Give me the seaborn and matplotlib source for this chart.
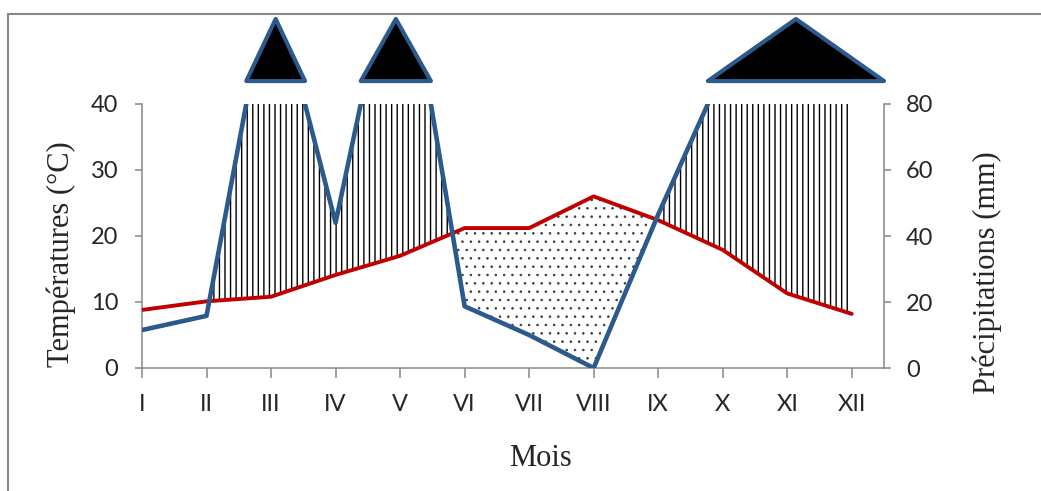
import numpy as np
import pandas as pd
import matplotlib
matplotlib.use("Agg")
import matplotlib.pyplot as plt
import matplotlib.transforms as mtransforms
from matplotlib.patches import Polygon
from matplotlib.lines import Line2D
import seaborn as sns

# ---------------- data ----------------
mois = ["I", "II", "III", "IV", "V", "VI", "VII", "VIII", "IX", "X", "XI", "XII"]
temperatures = [8.8, 10.1, 10.8, 14.1, 17.0, 21.2, 21.2, 26.0, 22.4, 17.9, 11.3, 8.2]   # °C
precipitations = [11.5, 15.8, 120.0, 44.0, 136.0, 18.7, 10.0, 0.0, 46.5, 90.0, 125.0, 96.0]  # mm
ticks_temp = [0, 10, 20, 30, 40]
ticks_prec = [0, 20, 40, 60, 80]
saison_seche = ("VI", "IX")

# ---------------- style ----------------
sns.set_style("white")
plt.rcParams["font.family"] = ["Lato", "DejaVu Sans"]
plt.rcParams["hatch.linewidth"] = 1.0
plt.rcParams["hatch.color"] = "black"
SERIF = ["Liberation Serif", "DejaVu Serif"]

BLUE = "#2C5A8C"
RED = "#C00000"
GRAY = "#878787"
TXT = "#262626"

W, H = 1041, 491
fig = plt.figure(figsize=(W / 100, H / 100), dpi=100)
ax = fig.add_axes([142 / W, 1 - 368 / H, (884 - 142) / W, (368 - 104) / H])
ax2 = ax.twinx()

x = np.arange(len(mois))
df = pd.DataFrame({"x": x, "mois": mois, "T": temperatures, "P": precipitations})
T = df["T"].to_numpy()
P2 = df["P"].to_numpy() / 2.0  # Gaussen convention P = 2T

# humid period (vertical hatching)
ax.fill_between(x, T, P2, where=P2 >= T, interpolate=True, facecolor="none",
                edgecolor="black", hatch="|||", linewidth=0, zorder=1)
# dry period (sparse dots)
i0, i1 = mois.index(saison_seche[0]), mois.index(saison_seche[1])
dry = (P2 <= T) & (x >= i0) & (x <= i1)
with plt.rc_context({"hatch.linewidth": 0.6}):
    ax.fill_between(x, P2, T, where=dry, interpolate=True, facecolor="none",
                    edgecolor="#3a3a3a", hatch="..", linewidth=0, zorder=1)

# lines
sns.lineplot(data=df, x="x", y="T", ax=ax, color=RED, linewidth=2.8, sort=False,
             solid_capstyle="round", zorder=3)
sns.lineplot(data=df, x="x", y="P", ax=ax2, color=BLUE, linewidth=3.3, sort=False,
             solid_capstyle="round", zorder=3)

ax.set_xlim(0, len(mois) - 0.5)
ax.set_ylim(ticks_temp[0], ticks_temp[-1])
ax2.set_ylim(ticks_prec[0], ticks_prec[-1])

# overflow triangles above the plot where precipitation > axis max
pmax = ticks_prec[-1]
P = df["P"].to_numpy()
trans = mtransforms.blended_transform_factory(ax2.transData, ax2.transAxes)
over = P > pmax
i = 0
n = len(P)
while i < n:
    if over[i]:
        j = i
        while j + 1 < n and over[j + 1]:
            j += 1
        xl = (i - 1) + (pmax - P[i - 1]) / (P[i] - P[i - 1]) if i > 0 else 0
        xr = j + (P[j] - pmax) / (P[j] - P[j + 1]) if j + 1 < n else ax.get_xlim()[1]
        tri = Polygon([(xl, 1.087), (xr, 1.087), ((xl + xr) / 2, 1.322)], closed=True,
                      transform=trans, facecolor="black", edgecolor=BLUE,
                      linewidth=3.0, joinstyle="round", clip_on=False, zorder=5)
        ax2.add_patch(tri)
        i = j + 1
    else:
        i += 1

# axes styling
ax.set_xticks(x)
ax.set_xticklabels(mois)
ax.set_yticks(ticks_temp)
ax2.set_yticks(ticks_prec)
for a in (ax, ax2):
    for s in a.spines.values():
        s.set_color(GRAY)
        s.set_linewidth(1.1)
    a.spines["top"].set_visible(False)
ax2.spines["left"].set_visible(False)
ax.spines["right"].set_visible(False)
ax2.spines["bottom"].set_visible(False)

ax.tick_params(axis="x", direction="out", length=7, width=1.1, color=GRAY, pad=12,
               labelsize=17, labelcolor=TXT, bottom=True)
ax.tick_params(axis="y", direction="out", length=5, width=1.1, color=GRAY, pad=12,
               labelsize=17, labelcolor=TXT, left=True)
ax2.tick_params(axis="y", direction="out", length=5, width=1.1, color=GRAY, pad=11,
                labelsize=17, labelcolor=TXT, right=True)

ax.set_xlabel("Mois", fontfamily=SERIF, fontsize=22, color=TXT)
ax.set_ylabel("Températures (°C)", fontfamily=SERIF, fontsize=22, color=TXT)
ax2.set_ylabel("Précipitations (mm)", fontfamily=SERIF, fontsize=22, color=TXT)
for lab in (ax.xaxis.label, ax.yaxis.label, ax2.yaxis.label):
    lab.set_rotation_mode("default")
    lab.set_verticalalignment("center")
    lab.set_horizontalalignment("center")
ax.xaxis.set_label_coords((541 - 142) / 742, (368 - 458) / 264)
ax.yaxis.set_label_coords((61 - 142) / 742, (368 - 254) / 264)
ax2.yaxis.set_label_coords((987 - 142) / 742, (368 - 273) / 264)

# outer chart frame (top and left edges visible in the crop)
fig.add_artist(Line2D([8 / W, 1], [1 - 14 / H] * 2, transform=fig.transFigure,
                      color=GRAY, linewidth=1.5, zorder=0))
fig.add_artist(Line2D([8 / W] * 2, [0, 1 - 14 / H], transform=fig.transFigure,
                      color=GRAY, linewidth=1.5, zorder=0))

fig.savefig("out.png", dpi=100)
